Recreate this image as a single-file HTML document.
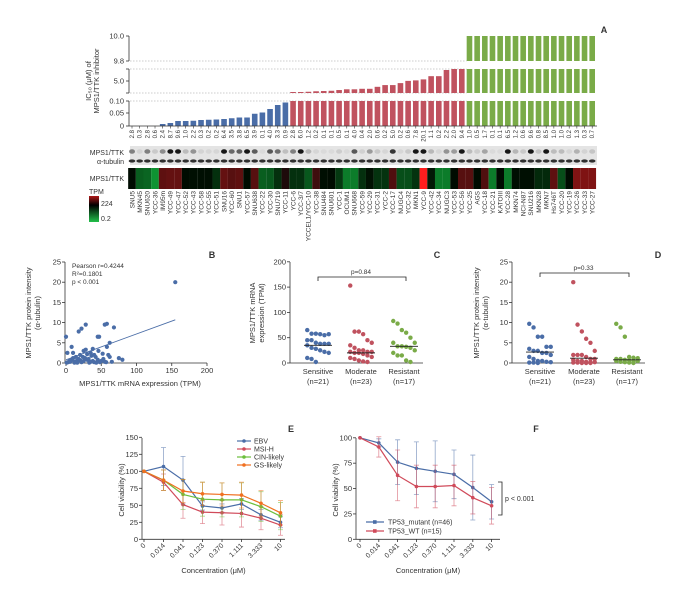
<!DOCTYPE html>
<html><head><meta charset="utf-8"><style>
html,body{margin:0;padding:0;background:#fff;}
svg{display:block;font-family:"Liberation Sans Narrow","Liberation Sans",sans-serif;}
text{fill:#333;}
</style></head><body>
<svg id="fig" width="684" height="596" viewBox="0 0 684 596" xmlns="http://www.w3.org/2000/svg"></svg>
<script>
// ---------- DATA ----------
const cellLines = ["SNU5","MKN45","SNU620","YCC-36","IM95m","YCC-49","YCC-47","YCC-52","YCC-43","YCC-58","YCC-55","YCC-51","SNU16","YCC-60","SNU1","YCC-57","SNU638","YCC-22","YCC-30","SNU719","YCC-11",
"YCC-6","YCC-3/7","YCCEL1/YCC-10","YCC-38","SNU484","SNU601","YCC-1","OCUM1","SNU668","YCC-59","YCC-29","YCC-31","YCC-2","YCC-17","NUGC4","YCC-32","MKN1","YCC-9","YCC-42","YCC-34","NUGC3","YCC-53","YCC-56",
"YCC-25","AGS","YCC-18","YCC-21","KATOIII","YCC-28","MKN74","NCI-N87","SNU216","MKN28","MKN7","Hs746T","YCC-20","YCC-19","YCC-26","YCC-33","YCC-27"];
const ic50Values = [0,0,0,0,0.008,0.012,0.02,0.02,0.021,0.024,0.025,0.026,0.028,0.031,0.034,0.034,0.049,0.054,0.068,0.084,0.094,
0.5,0.5,0.6,0.8,0.9,1.0,1.3,1.6,1.6,1.8,1.8,2.6,3.3,3.3,4.1,5.0,5.2,5.6,6.9,6.9,9.4,9.8,9.8,
10,10,10,10,10,10,10,10,10,10,10,10,10,10,10,10,10];
const proteinValues = [2.8,0.3,2.8,0.6,2.4,8.7,9.6,1.0,2.2,0.3,0.2,0.2,6.4,3.5,3.8,6.5,3.9,0.1,4.0,3.3,0.9,
2.8,6.0,1.2,0.2,0.1,0.1,0.5,0.1,4.0,0.4,2.0,0.6,0.2,5.0,0.2,0.6,7.8,20.1,1.1,0.2,2.2,2.0,9.4,
1.0,0.5,1.7,0.1,0.1,6.5,1.2,0.6,9.6,0.8,8.5,1.0,1.0,0.2,1.3,0.3,0.7];
const tpmValues = [60,5,4,1,140,150,150,60,55,55,55,20,150,130,140,60,130,5,6,20,70,
20,20,6,100,55,60,15,2,2,20,50,18,18,120,8,8,18,900,40,2,2,60,130,
130,60,120,2,60,2,55,55,55,25,25,140,8,60,200,200,200];
const groupColors = ["#4a6da7","#c0525f","#7aab48"];
const groupSizes = [21,23,17];

const bMrna = [155,0,18,22,28,55,58,45,47,68,62,58,38,8,2,10,25,28,35,40,52,60,62,75,80,65,5,8,12,15,18,20,22,25,30,32,35,38,40,42,45,48,50,55,3,1,6,10,14,16,27,33,36,43,53,57,20,30,46,24,12];
const bProtein = [20,6.5,7.8,8.5,9.5,9.5,9.7,6.5,6.5,8.8,5,4,3.5,4,2.5,2.5,3,3.3,2.5,2,2.3,2,1.5,1.2,0.8,0.3,0.5,0.8,0.3,0.5,1,0.7,0.2,0.5,0.8,1,0.3,0.5,0.2,1.5,0.8,0.2,0.5,0.3,0.2,0.1,0.3,1.2,1.5,0.1,1.2,0.1,1.8,0.1,1,0.2,2,2.2,3,1.5,0.1];
const bFitStart = [0,0.8];
const bFitEnd = [155,10.7];

const groupNames = ["Sensitive","Moderate","Resistant"];
const groupN = ["(n=21)","(n=23)","(n=17)"];
const cSensitive = [65,58,58,57,55,57,45,45,40,38,38,38,35,30,28,25,22,20,10,8,2];
const cModerate = [153,62,62,57,45,40,35,30,25,25,22,22,22,20,20,18,15,12,10,8,5,3,2];
const cResistant = [83,78,65,60,50,40,40,33,33,32,30,25,20,15,15,5,2];
const cMedians = [35,20,33];
const dSensitive = [9.7,8.8,6.5,6.5,4,4,3.5,3,3,2.5,2.5,2,1.5,1,0.5,0.5,0.3,0.2,0.1,0.1,0];
const dModerate = [20,9.5,7.8,6,5,3,2,2,2,1.5,1,1,0.8,0.5,0.5,0.3,0.2,0.2,0.1,0.1,0,0,0];
const dResistant = [9.7,8.8,6.5,1.5,1.3,1.2,1,1,0.8,0.7,0.5,0.5,0.5,0.3,0.2,0.1,0];
const dMedians = [2.7,1.2,0.8];

const concLabels = ["0","0.014","0.041","0.123","0.370","1.111","3.333","10"];
const eEBV = [100,107,87,49,46,52,36,25];
const eEBVerr = [0,28,35,6,6,8,8,8];
const eMSI = [100,84,51,40,39,38,31,21];
const eMSIerr = [0,12,20,17,18,20,17,15];
const eCIN = [100,87,66,59,58,58,48,34];
const eCINerr = [0,15,22,25,25,25,22,20];
const eGS = [100,87,71,67,66,65,53,39];
const eGSerr = [0,15,17,17,17,19,19,18];
const fMutant = [100,95,76,70,67,64,51,37];
const fMutantErr = [0,4,22,26,30,24,32,17];
const fWT = [100,91,63,52,52,53,41,33];
const fWTErr = [0,10,25,21,21,20,16,18];

// ---------- HELPERS ----------
const NS="http://www.w3.org/2000/svg";
const svg=document.getElementById('fig');
function mk(tag,attrs,parent){const e=document.createElementNS(NS,tag);for(const k in attrs)e.setAttribute(k,attrs[k]);(parent||svg).appendChild(e);return e;}
function txt(x,y,s,size,anchor,parent,extra){const t=mk('text',Object.assign({x:x,y:y,'font-size':size,'text-anchor':anchor||'start'},extra||{}),parent);t.textContent=s;return t;}
function groupOf(i){return i<21?0:(i<44?1:2);}

// ---------- PANEL A ----------
const gA=mk('g',{});


const xA=i=>132+i*7.67;
const yLow=v=>126-v/0.1*25;
const yMid=v=>93-(v-0.1)/9.7*24;
const yTop=v=>61-(v-9.8)/0.2*25;
// dashed break lines
[[101,'0.10'],[93,'mid-bottom'],[69,'mid-top'],[61,'9.8']].forEach(d=>{
  const l=mk('line',{x1:130,x2:xA(44)-3,y1:d[0],y2:d[0],stroke:'#999','stroke-width':0.6,'stroke-dasharray':'1.5,1.5'},gA);
  
  
});
// bars
ic50Values.forEach((v,i)=>{
  const c=groupColors[groupOf(i)],x=xA(i)-2.8,w=5.6;
  const lo=Math.min(v,0.1);
  if(lo>0){const r=mk('rect',{x:x,y:yLow(lo),width:w,height:126-yLow(lo),fill:c},gA);
    
    }
  if(v>0.1){const m=Math.min(v,9.8);const r=mk('rect',{x:x,y:yMid(m),width:w,height:93-yMid(m),fill:c},gA);
    
    }
  if(v>9.8){const r=mk('rect',{x:x,y:yTop(v),width:w,height:61-yTop(v),fill:c},gA);
    
    }
  const tk=mk('line',{x1:xA(i),x2:xA(i),y1:126,y2:128.5,stroke:'#333','stroke-width':0.6},gA);
  
  
  const nt=txt(0,0,proteinValues[i].toFixed(1),6,'end',gA,{transform:`translate(${xA(i)+2},130) rotate(-90)`,fill:'#555'});
  
  
});
// axes segments
[[36,61],[69,93],[101,126]].forEach(s=>{
  const l=mk('line',{x1:129,x2:129,y1:s[0],y2:s[1],stroke:'#333','stroke-width':0.8},gA);
  
  
});
const xaxA=mk('line',{x1:129,x2:597,y1:126,y2:126,stroke:'#333','stroke-width':0.8},gA);


[[36,'10.0'],[61,'9.8'],[81,'5.0'],[101,'0.10'],[113,'0.05'],[126,'0']].forEach(t=>{
  const l=mk('line',{x1:126,x2:129,y1:t[0],y2:t[0],stroke:'#333','stroke-width':0.8},gA);
  
  
  const tt=txt(124,t[0]+2.5,t[1],7.5,'end',gA);
  
  
});
[69,93].forEach(y=>{const l=mk('line',{x1:126,x2:129,y1:y,y2:y,stroke:'#333','stroke-width':0.8},gA);
  
  });
const yta=txt(0,0,'IC₅₀ (μM) of',7.5,'middle',gA,{transform:'translate(91,81) rotate(-90)'});


const ytb=txt(0,0,'MPS1/TTK inhibitor',7.5,'middle',gA,{transform:'translate(99,81) rotate(-90)'});


const la=txt(604,33,'A',9,'middle',svg,{'font-weight':'bold'});



// blot
const blot=mk('rect',{x:130,y:146,width:467,height:19,fill:'#e4e4e4'},gA);


proteinValues.forEach((v,i)=>{
  const b=mk('ellipse',{cx:xA(i),cy:151.5,rx:3,ry:2.3,fill:'#111','fill-opacity':Math.min(1,v/6)*0.95+0.03},gA);
  
  
  const t=mk('ellipse',{cx:xA(i),cy:161,rx:3.3,ry:1.6,fill:'#111','fill-opacity':0.85},gA);
  
  
});
const bl1=txt(124,155,'MPS1/TTK',7,'end',gA);
const bl2=txt(124,164,'α-tubulin',7,'end',gA);

// heatmap
function heatColor(v){
  const l=Math.log10(v), a=-0.7, m=1.8, b=2.9;
  if(l<=m){const t=Math.max(0,(l-a)/(m-a));return `rgb(${Math.round(20*(1-t))},${Math.round(200*(1-t)+10*t)},${Math.round(70*(1-t))})`;}
  const t=Math.min(1,(l-m)/(b-m));return `rgb(${Math.round(20+235*t)},${Math.round(10+20*t)},${Math.round(10+20*t)})`;
}
tpmValues.forEach((v,i)=>{
  const r=mk('rect',{x:xA(i)-3.84,y:168,width:7.7,height:21,fill:heatColor(v)},gA);
  
  
  const t=txt(0,0,cellLines[i],6.5,'end',gA,{transform:`translate(${xA(i)+2.3},191) rotate(-90)`});
  
  
});
const hl=txt(124,181,'MPS1/TTK',7,'end',gA);
const defs=mk('defs',{});
const lg=mk('linearGradient',{id:'tpmgrad',x1:0,y1:0,x2:0,y2:1},defs);
[['0','#b01818'],['0.35','#000'],['1','#22c04a']].forEach(s=>mk('stop',{offset:s[0],'stop-color':s[1]},lg));
const cb=mk('rect',{x:89,y:196,width:10,height:26,fill:'url(#tpmgrad)'},gA);


const ct=txt(89,194,'TPM',7,'start',gA);
const c1=txt(101,206,'224',7,'start',gA);
const c2=txt(101,221,'0.2',7,'start',gA);

// ---------- generic axis helper ----------
function yAxis(g,x,y0,y1,ticks,scale,fmt){
  const l=mk('line',{x1:x,x2:x,y1:y0,y2:y1,stroke:'#333','stroke-width':0.8},g);
  
  
  ticks.forEach(t=>{const tl=mk('line',{x1:x-3,x2:x,y1:scale(t),y2:scale(t),stroke:'#333','stroke-width':0.8},g);
    
    
    const tt=txt(x-4,scale(t)+2.5,fmt?fmt(t):String(t),7.5,'end',g);
    
    });
}

// ---------- PANEL B ----------
const gB=mk('g',{});


const xB=v=>66+v*0.705, yB=v=>363-v*4.04;
yAxis(gB,65,262,363,[0,5,10,15,20,25],yB);
const xaB=mk('line',{x1:65,x2:xB(200),y1:363,y2:363,stroke:'#333','stroke-width':0.8},gB);


[0,50,100,150,200].forEach(t=>{const l=mk('line',{x1:xB(t),x2:xB(t),y1:363,y2:366,stroke:'#333','stroke-width':0.8},gB);
  
  const tt=txt(xB(t),373,String(t),7.5,'middle',gB);});
bMrna.forEach((v,i)=>{const c=mk('circle',{cx:xB(v),cy:yB(bProtein[i]),r:2.1,fill:'#4a6da7'},gB);
  });
const fit=mk('line',{x1:xB(bFitStart[0]),y1:yB(bFitStart[1]),x2:xB(bFitEnd[0]),y2:yB(bFitEnd[1]),stroke:'#4a6da7','stroke-width':0.9},gB);

['Pearson r=0.4244','R²=0.1801','p < 0.001'].forEach((s,i)=>{const t=txt(72,268+i*8,s,6.5,'start',gB);
  });
const bx=txt(140,386,'MPS1/TTK mRNA expression (TPM)',7.5,'middle',gB);
const by1=txt(0,0,'MPS1/TTK protein intensity',7.5,'middle',gB,{transform:'translate(31,313) rotate(-90)'});
const by2=txt(0,0,'(α-tubulin)',7.5,'middle',gB,{transform:'translate(40,313) rotate(-90)'});
const lb=txt(212,258,'B',9,'middle',svg,{'font-weight':'bold'});

// ---------- swarm panels C & D ----------
function swarm(g,axX,cats,groups,meds,yS,ticks,pText,bracketY,title1,title2,titleX,label,labelX){
  yAxis(g,axX,262,363,ticks,yS);
  const xa=mk('line',{x1:axX,x2:axX+133,y1:363,y2:363,stroke:'#333','stroke-width':0.8},g);
  
  groups.forEach((arr,gi)=>{
    const cx=cats[gi];
    arr.forEach((v,k)=>{const off=((k%6)-2.5)*4.3;
      const c=mk('circle',{cx:cx+off,cy:yS(v),r:2.2,fill:groupColors[gi]},g);
      
      });
    const m=mk('line',{x1:cx-14,x2:cx+14,y1:yS(meds[gi]),y2:yS(meds[gi]),stroke:'#222','stroke-width':0.9},g);
    
    const t1=txt(cx,374,groupNames[gi],7.5,'middle',g);
    const t2=txt(cx,384,groupN[gi],7.5,'middle',g);
  });
  const br=mk('path',{d:`M${cats[0]},${bracketY+4}V${bracketY}H${cats[2]+2}V${bracketY+4}`,fill:'none',stroke:'#222','stroke-width':0.8},g);
  
  const pt=txt((cats[0]+cats[2])/2,bracketY-3,pText,6.5,'middle',g);
  const a1=txt(0,0,title1,7.5,'middle',g,{transform:`translate(${titleX},313) rotate(-90)`});
  const a2=txt(0,0,title2,7.5,'middle',g,{transform:`translate(${titleX+9},313) rotate(-90)`});
  const L=txt(labelX,258,label,9,'middle',svg,{'font-weight':'bold'});
}
const gC=mk('g',{});


swarm(gC,290,[318,361,404],[cSensitive,cModerate,cResistant],cMedians,v=>363-v*0.506,[0,50,100,150,200],'p=0.84',277,'MPS1/TTK mRNA','expression (TPM)',255,'C',437);
const gD=mk('g',{});


swarm(gD,512,[540,584,627],[dSensitive,dModerate,dResistant],dMedians,v=>363-v*4.04,[0,5,10,15,20,25],'p=0.33',273,'MPS1/TTK protein intensity','(α-tubulin)',479,'D',658);

// ---------- line panels E & F ----------
function linePanel(g,axX,xS,yS,ticks,series,colors,names,errs,xEnd){
  yAxis(g,axX,438,539.3,ticks,yS);
  const xa=mk('line',{x1:axX,x2:xEnd,y1:539.3,y2:539.3,stroke:'#333','stroke-width':0.8},g);
  
  concLabels.forEach((c,i)=>{const l=mk('line',{x1:xS(i),x2:xS(i),y1:539.3,y2:542,stroke:'#333','stroke-width':0.8},g);
    
    const t=txt(0,0,c,7,'end',g,{transform:`translate(${xS(i)+2},546) rotate(-45)`});
    });
  series.forEach((s,si)=>{
    const col=colors[si];
    s.forEach((v,i)=>{if(errs[si][i]>0){
      const e=mk('path',{d:`M${xS(i)},${yS(v-errs[si][i])}V${yS(v+errs[si][i])}M${xS(i)-2.5},${yS(v+errs[si][i])}h5M${xS(i)-2.5},${yS(v-errs[si][i])}h5`,stroke:col,'stroke-width':0.8,'stroke-opacity':0.6,fill:'none'},g);
      }});
    const p=mk('polyline',{points:s.map((v,i)=>xS(i)+','+yS(v)).join(' '),fill:'none',stroke:col,'stroke-width':1.2},g);
    
    s.forEach((v,i)=>{const m=mk('circle',{cx:xS(i),cy:yS(v),r:1.8,fill:col},g);
      });
  });
  const xt=txt((axX+xEnd)/2,573,'Concentration (μM)',7.5,'middle',g);
  const yt=txt(0,0,'Cell viability (%)',7.5,'middle',g,{transform:`translate(${axX-18},490) rotate(-90)`});
}
const gE=mk('g',{});


const xE=i=>144+i*19.5, yE=v=>539.3-v*0.68;
linePanel(gE,142,xE,yE,[0,25,50,75,100,125,150],[eEBV,eMSI,eCIN,eGS],['#4a6da7','#d04a5a','#6cbf3c','#f07020'],['ebv','msi-h','cin-likely','gs-likely'],[eEBVerr,eMSIerr,eCINerr,eGSerr],285);
[['EBV','#4a6da7'],['MSI-H','#d04a5a'],['CIN-likely','#6cbf3c'],['GS-likely','#f07020']].forEach((d,i)=>{
  const y=441+i*8;
  const l=mk('line',{x1:237,x2:251,y1:y,y2:y,stroke:d[1],'stroke-width':1.2},gE);
  const c=mk('circle',{cx:244,cy:y,r:1.8,fill:d[1]},gE);
  const t=txt(254,y+2.5,d[0],7,'start',gE);
});
const LE=txt(291,432,'E',9,'middle',svg,{'font-weight':'bold'});

const gF=mk('g',{});


const xF=i=>360+i*18.8, yF=v=>539.3-v*1.015;
linePanel(gF,356,xF,yF,[0,25,50,75,100],[fMutant,fWT],['#4a6da7','#d04a5a'],['tp53-mutant','tp53-wt'],[fMutantErr,fWTErr],500);
[['TP53_mutant (n=46)','#4a6da7'],['TP53_WT (n=15)','#d04a5a']].forEach((d,i)=>{
  const y=522+i*9;
  const l=mk('line',{x1:366,x2:384,y1:y,y2:y,stroke:d[1],'stroke-width':1.2},gF);
  const c=mk('rect',{x:373,y:y-1.8,width:3.6,height:3.6,fill:d[1]},gF);
  const t=txt(388,y+2.5,d[0],7,'start',gF);
});
const fb=mk('path',{d:'M498,482H502V515H498',fill:'none',stroke:'#222','stroke-width':0.8},gF);

const fp=txt(505,501,'p < 0.001',7,'start',gF);
const LF=txt(536,432,'F',9,'middle',svg,{'font-weight':'bold'});
</script>
</body></html>
